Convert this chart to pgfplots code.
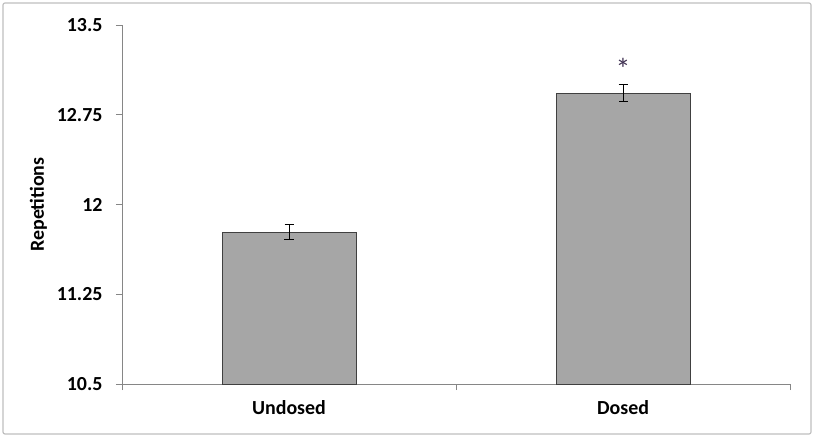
\documentclass[border=0pt]{standalone}
\usepackage{pgfplots}
\pgfplotsset{compat=1.18}
\usepackage{fontspec}
\setmainfont{Carlito}
\definecolor{barfill}{HTML}{A6A6A6}
\definecolor{baredge}{HTML}{404040}
\definecolor{axgray}{HTML}{868686}
\definecolor{frame}{HTML}{BFBFBF}
\definecolor{star}{HTML}{403152}
\begin{document}
\begin{tikzpicture}
\path[use as bounding box] (-122bp,-55bp) rectangle (694bp,384bp);
\draw[frame, line width=1.2bp, rounded corners=2bp] (-119bp,-50bp) rectangle (689bp,381bp);
\begin{axis}[
  at={(0,0)}, anchor=south west,
  width=668bp, height=359bp, scale only axis,
  xmin=0, xmax=2, ymin=10.5, ymax=13.5,
  axis lines=left, axis line style={-, axgray, line width=0.9bp},
  xtick={0.5,1.5}, xticklabels={Undosed,Dosed},
  xtick style={draw=none},
  extra x ticks={0,1,2}, extra x tick labels={},
  extra x tick style={xtick style={draw=axgray, line width=0.9bp}, major tick length=6bp, tick align=outside},
  ytick={10.5,11.25,12,12.75,13.5},
  yticklabels={10.5,11.25,12,12.75,13.5},
  ytick style={draw=axgray, line width=0.9bp},
  major tick length=6bp, tick align=outside,
  tick label style={font=\fontsize{20}{22}\selectfont\bfseries},
  yticklabel style={xshift=-10bp},
  xticklabel style={yshift=-7bp},
  ylabel={Repetitions},
  ylabel style={font=\fontsize{20}{22}\selectfont\bfseries, yshift=3bp},
  clip=false,
]
\addplot[ybar, bar width=134bp, fill=barfill, draw=baredge, line width=1bp,
  error bars/.cd, y dir=both, y explicit,
  error bar style={black, line width=1bp}, error mark options={rotate=90, mark size=4.5bp, line width=1bp}]
  coordinates {(0.5,11.77) +- (0,0.065) (1.5,12.93) +- (0,0.07)};
\node[star, font=\fontsize{30}{32}\selectfont] at (axis cs:1.5,13.13) {*};
\end{axis}
\end{tikzpicture}
\end{document}
